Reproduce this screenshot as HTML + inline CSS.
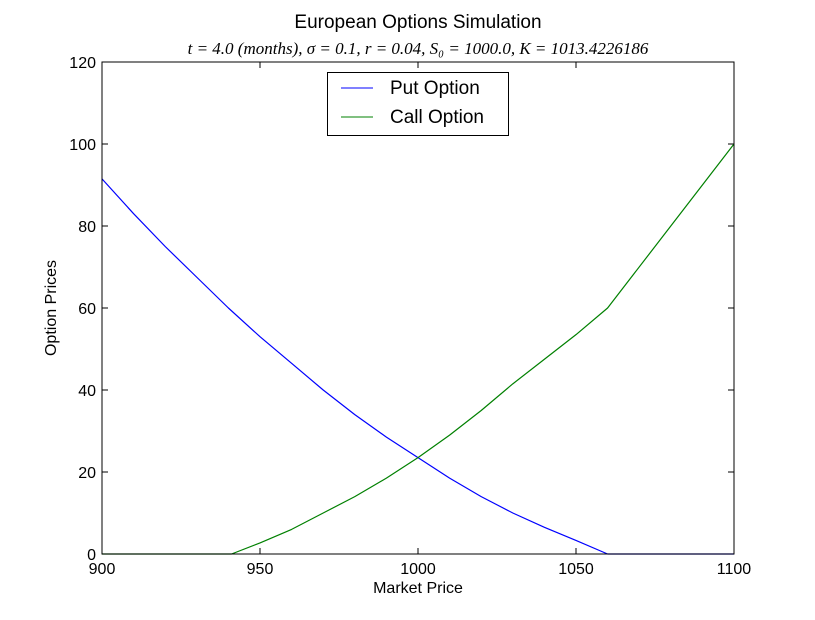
<!DOCTYPE html>
<html><head><meta charset="utf-8"><style>
body{margin:0;background:#fff;}
svg{font-family:"Liberation Sans",sans-serif;}
</style></head><body>
<svg id="chart" width="815" height="615" viewBox="0 0 815 615">
<text x="418" y="28" text-anchor="middle" font-size="19">European Options Simulation</text>
<text x="418" y="54" text-anchor="middle" font-size="17" font-family="Liberation Serif,serif" font-style="italic">t = 4.0 (months), σ = 0.1, r = 0.04, S₀ = 1000.0, K = 1013.4226186</text>
<g id="axes"></g>
<g id="series"></g>
<rect x="102" y="62" width="632" height="492" fill="none" stroke="#000" stroke-width="1"/>
<g>
<rect x="327.5" y="72.5" width="181" height="63" fill="#fff" stroke="#000"/>
<line x1="341" y1="88" x2="373" y2="88" stroke="#0000ff"/>
<text x="390" y="94" font-size="19">Put Option</text>
<line x1="341" y1="117" x2="373" y2="117" stroke="#008000"/>
<text x="390" y="123" font-size="19">Call Option</text>
</g>
<text x="418" y="593" text-anchor="middle" font-size="16">Market Price</text>
<text transform="translate(56,308) rotate(-90)" text-anchor="middle" font-size="16">Option Prices</text>
</svg>
<script>
const putX=[900,910,920,930,940,950,960,970,980,990,1000,1010,1020,1030,1040,1050,1060,1100];
const putY=[91.5,83,75,67.5,60,53,46.5,40,34,28.5,23.5,18.5,14,10,6.5,3.3,0,0];
const callX=[900,941,950,960,970,980,990,1000,1010,1020,1030,1040,1050,1060,1080,1100];
const callY=[0,0,2.7,6,10,14,18.5,23.5,29,35,41.5,47.5,53.5,60,80,100];
const xTicks=[900,950,1000,1050,1100];
const yTicks=[0,20,40,60,80,100,120];
const NS="http://www.w3.org/2000/svg";
const X0=102,X1=734,Y0=554,Y1=62;
const sx=v=>X0+(v-900)/200*(X1-X0);
const sy=v=>Y0-(v-0)/120*(Y0-Y1);
const axes=document.getElementById('axes');
function mk(tag,attrs,parent){const e=document.createElementNS(NS,tag);for(const k in attrs)e.setAttribute(k,attrs[k]);parent.appendChild(e);return e;}
xTicks.forEach(t=>{
  const x=sx(t);
  const l1=mk('line',{x1:x,y1:Y0,x2:x,y2:Y0-6,stroke:'#000'},axes);
  
  
  mk('line',{x1:x,y1:Y1,x2:x,y2:Y1+6,stroke:'#000'},axes);
  const tx=mk('text',{x:x,y:Y0+20,'text-anchor':'middle','font-size':16},axes);
  tx.textContent=t;
  
  
});
yTicks.forEach(t=>{
  const y=sy(t);
  const l1=mk('line',{x1:X0,y1:y,x2:X0+6,y2:y,stroke:'#000'},axes);
  
  
  mk('line',{x1:X1,y1:y,x2:X1-6,y2:y,stroke:'#000'},axes);
  const tx=mk('text',{x:X0-6,y:y+6,'text-anchor':'end','font-size':16},axes);
  tx.textContent=t;
  
  
});
const ser=document.getElementById('series');
const p1=mk('polyline',{points:putX.map((v,i)=>sx(v)+','+sy(putY[i])).join(' '),fill:'none',stroke:'#0000ff','stroke-width':1.2,'stroke-linejoin':'round'},ser);


const p2=mk('polyline',{points:callX.map((v,i)=>sx(v)+','+sy(callY[i])).join(' '),fill:'none',stroke:'#008000','stroke-width':1.2,'stroke-linejoin':'round'},ser);


</script>
</body></html>
